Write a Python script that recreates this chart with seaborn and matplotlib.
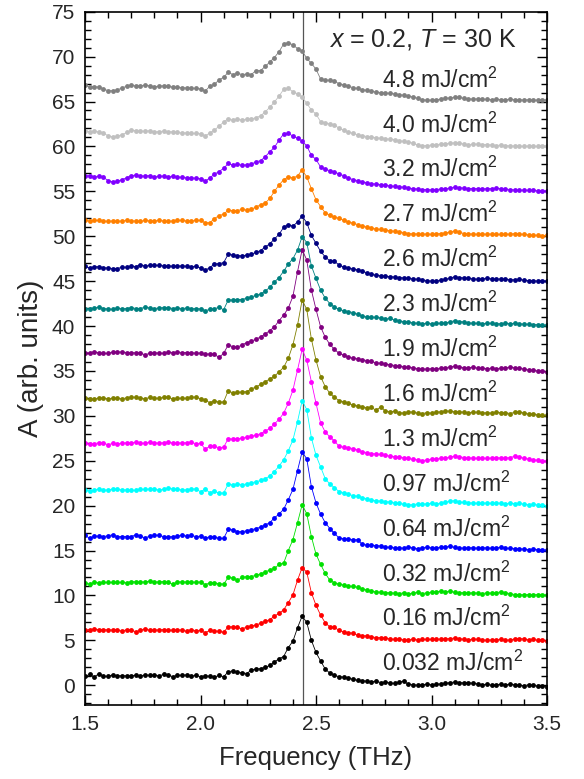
import numpy as np
import pandas as pd
import matplotlib
matplotlib.use("Agg")
import matplotlib.pyplot as plt
from matplotlib.ticker import MultipleLocator, FormatStrFormatter
import seaborn as sns

# ---------------- data ----------------
# frequency grid (THz)
freq = np.round(1.5 + 0.02 * np.arange(101), 2)

fluences = ["0.032", "0.16", "0.32", "0.64", "0.97", "1.3", "1.6",
            "1.9", "2.3", "2.6", "2.7", "3.2", "4.0", "4.8"]
offsets = [0, 5, 10, 15, 20, 25, 30, 35, 40, 45, 50, 55, 60, 65]
colors = ["#000000", "#ff0000", "#00e000", "#0000ff", "#00ffff", "#ff00ff",
          "#808000", "#800080", "#008080", "#000080", "#ff8000", "#8000ff",
          "#c0c0c0", "#808080"]

# spectra relative to their vertical offset
spec_0032 = [1.0,1.2,0.9,1.3,1.0,1.0,1.15,1.05,1.05,1.05,
             1.05,1.1,1.0,1.15,1.1,1.1,1.05,1.2,1.15,0.95,
             1.1,1.1,1.15,1.0,1.1,0.95,1.05,1.0,0.9,1.1,
             0.95,
             1.5,1.6,1.45,1.4,1.3,1.7,1.8,1.85,2.0,2.2,
             2.6,2.95,3.2,4.2,4.9,6.4,7.7,7.0,5.0,3.65,
             2.7,1.8,1.35,1.1,0.95,0.9,0.8,0.65,0.55,0.5,
             0.45,0.4,0.45,0.3,0.35,0.25,0.2,0.35,0.45,0.1,
             0.05,0.0,0.05,0.1,0.05,0.1,0.15,0.2,0.3,0.35,
             0.3,0.25,0.3,0.2,0.15,0.05,0.1,0.0,0.05,0.1,
             0.05,0.1,0.05,0.0,-0.05,0.05,0.0,-0.1,-0.05,-0.15]
spec_016 = [1.1,1.2,1.25,1.2,1.2,1.15,1.15,1.2,1.0,1.2,
            1.15,0.95,1.1,1.3,1.1,1.15,1.15,1.2,1.1,1.15,
            1.15,1.15,1.0,1.2,1.05,1.1,0.85,1.1,1.05,1.0,
            0.9,
            1.5,1.5,1.45,1.25,1.5,1.6,1.7,1.9,2.1,2.3,
            2.7,3.0,3.4,4.2,5.05,6.7,8.1,7.6,5.3,3.9,
            2.8,1.95,1.5,1.45,1.1,0.95,0.85,0.8,0.55,0.5,
            0.5,0.4,0.3,0.3,0.25,0.15,0.1,0.1,0.05,0.05,
            0.1,0.05,0.1,0.1,0.1,0.1,0.15,0.15,0.2,0.25,
            0.2,0.1,0.05,0.15,0.1,0.05,0.0,0.05,0.05,0.1,
            0.0,0.05,0.15,0.2,0.15,0.05,0.1,0.0,0.0,-0.05]
spec_032 = [1.4,1.25,1.45,1.4,1.45,1.45,1.45,1.45,1.45,1.4,
            1.55,1.5,1.5,1.5,1.6,1.5,1.5,1.55,1.45,1.25,
            1.5,1.5,1.5,1.5,1.45,1.5,1.2,1.4,1.4,1.3,
            1.25,
            2.0,1.95,1.7,2.0,2.1,2.1,2.25,2.4,2.6,2.85,
            3.0,3.45,3.6,5.0,6.2,8.1,10.1,9.1,6.55,4.6,
            3.45,2.45,1.7,1.4,1.25,1.15,1.05,1.0,0.9,0.75,
            0.6,0.45,0.4,0.35,0.3,0.3,0.25,0.2,0.3,0.2,
            0.25,0.35,0.2,0.3,0.35,0.4,0.45,0.4,0.45,0.35,
            0.3,0.3,0.25,0.3,0.25,0.2,0.3,0.25,0.3,0.4,
            0.3,0.2,0.1,0.1,0.05,0.1,0.05,0.1,0.05,0.05]
spec_064 = [1.7,1.35,1.6,1.6,1.55,1.65,1.75,1.55,1.55,1.55,
            1.55,1.75,1.6,1.4,1.6,1.7,1.7,1.55,1.5,1.55,
            1.6,1.7,1.6,1.7,1.55,1.6,1.35,1.55,1.5,1.35,
            1.35,
            2.35,2.3,2.1,2.1,2.2,2.3,2.45,2.6,2.85,3.1,
            3.65,4.05,4.6,5.65,6.8,8.9,11.0,10.2,7.1,5.3,
            4.05,3.1,2.45,1.9,1.4,1.3,1.25,1.2,1.2,0.7,
            0.6,0.6,0.55,0.5,0.4,0.35,0.3,0.3,0.25,0.35,
            0.3,0.2,0.3,0.35,0.3,0.3,0.35,0.4,0.45,0.35,
            0.3,0.25,0.3,0.3,0.25,0.3,0.3,0.25,0.3,0.35,
            0.25,0.25,0.2,0.2,0.15,0.1,0.15,0.1,0.05,0.05]
spec_097 = [1.75,1.65,1.75,1.85,1.7,1.75,1.85,1.8,1.75,1.75,
            1.7,1.7,1.8,1.8,1.85,1.8,1.75,1.8,1.95,1.85,
            1.8,1.75,1.75,1.85,1.85,1.55,1.85,1.45,1.6,1.4,
            1.4,
            2.4,2.3,2.4,2.35,2.4,2.55,2.65,2.8,3.0,3.3,
            3.8,4.4,5.1,6.1,7.3,9.35,11.7,10.7,7.55,5.6,
            4.3,3.0,2.4,2.0,1.55,1.45,1.3,1.1,1.05,0.9,
            0.75,0.6,0.55,0.5,0.45,0.4,0.3,0.25,0.15,0.1,
            0.1,0.2,0.15,0.2,0.25,0.2,0.25,0.35,0.5,0.55,
            0.4,0.35,0.3,0.3,0.25,0.25,0.3,0.25,0.3,0.25,
            0.2,0.3,0.2,0.25,0.15,0.1,0.15,0.05,0.05,0.0]
spec_13 = [2.0,1.85,1.9,2.0,2.0,1.75,1.95,1.9,1.95,2.0,
           2.0,2.05,1.95,1.95,2.05,2.0,1.95,2.0,2.1,1.95,
           1.95,2.0,2.0,2.05,1.9,1.95,1.3,1.6,1.6,1.45,
           1.5,
           2.45,2.4,2.45,2.5,2.6,2.7,2.85,3.0,3.3,3.6,
           4.1,4.6,5.3,6.4,7.85,10.1,12.4,11.2,8.8,6.4,
           4.2,3.2,2.65,2.2,1.6,1.5,1.45,1.35,1.2,1.0,
           0.9,0.8,0.75,0.7,0.6,0.5,0.45,0.4,0.35,0.25,
           0.15,0.1,0.0,0.1,0.15,0.2,0.25,0.3,0.4,0.5,
           0.45,0.35,0.3,0.3,0.25,0.3,0.25,0.3,0.35,0.3,
           0.3,0.35,0.5,0.45,0.25,0.2,0.1,0.05,0.0,-0.05]
spec_16 = [1.95,1.85,1.85,2.0,1.95,1.9,1.95,1.95,1.9,2.0,
           2.1,2.05,1.95,1.9,2.05,1.95,1.95,2.05,2.1,1.85,
           1.95,1.95,1.95,2.05,2.1,1.9,1.8,1.45,1.7,1.5,
           1.55,
           2.8,2.55,2.6,2.65,2.7,3.0,3.2,3.5,3.8,4.1,
           4.4,4.9,5.4,6.4,7.9,10.1,12.9,11.85,8.55,6.2,
           4.35,3.25,2.5,2.05,1.7,1.55,1.4,1.2,1.1,1.0,
           0.9,0.95,0.6,1.0,0.55,0.45,0.5,0.35,0.3,0.45,
           0.4,0.3,0.25,0.35,0.3,0.4,0.45,0.55,0.5,0.45,
           0.45,0.4,0.35,0.4,0.4,0.3,0.35,0.3,0.4,0.35,
           0.35,0.25,0.4,0.45,0.3,0.2,0.2,0.1,0.05,0.05]
spec_19 = [2.0,2.0,2.15,2.0,1.95,1.95,2.1,2.1,2.1,2.05,
           2.05,2.0,2.05,1.75,2.0,2.0,2.0,1.95,2.1,2.05,
           2.1,2.05,2.05,2.05,1.95,2.0,1.85,1.9,1.85,1.5,
           1.95,
           2.9,2.7,2.65,2.9,3.15,3.35,3.5,3.8,4.1,4.5,
           4.9,5.6,6.2,7.0,8.3,11.05,13.5,12.35,9.0,6.85,
           4.9,3.75,2.95,2.4,1.95,1.75,1.55,1.4,1.35,1.25,
           1.15,1.05,0.9,0.85,0.75,0.7,0.6,0.55,0.45,0.4,
           0.35,0.25,0.2,0.2,0.25,0.2,0.3,0.35,0.45,0.5,
           0.45,0.35,0.35,0.4,0.3,0.3,0.25,0.3,0.25,0.3,
           0.35,0.4,0.35,0.3,0.2,0.1,0.05,0.0,-0.05,-0.1]
spec_23 = [1.95,1.95,2.0,2.1,1.95,1.9,1.85,2.0,1.9,1.95,
           2.05,1.95,1.95,2.1,2.0,1.95,2.0,2.05,2.05,1.95,
           2.0,1.95,2.0,1.9,1.95,1.9,1.7,1.85,1.9,2.1,
           1.8,
           2.9,2.9,2.95,2.95,3.1,3.25,3.4,3.55,3.9,4.3,
           4.9,5.4,6.1,6.9,7.5,8.45,9.95,9.3,6.7,5.3,
           4.0,3.1,2.5,2.1,1.85,1.7,1.6,1.5,1.3,1.1,
           1.0,1.0,0.95,0.9,0.75,0.85,0.65,0.55,0.5,0.45,
           0.35,0.3,0.25,0.3,0.25,0.3,0.3,0.35,0.45,0.6,
           0.5,0.45,0.35,0.3,0.3,0.25,0.3,0.3,0.25,0.25,
           0.3,0.25,0.3,0.25,0.2,0.2,0.15,0.15,0.1,0.1]
spec_26 = [1.65,1.45,1.6,1.6,1.5,1.45,1.4,1.4,1.55,1.55,
           1.7,1.6,1.85,1.65,1.75,1.75,1.75,1.7,1.7,1.65,
           1.65,1.7,1.65,1.6,1.65,1.45,1.2,1.5,1.9,1.95,
           2.05,
           3.0,2.9,2.85,2.8,2.9,3.0,3.2,3.4,3.8,4.15,
           4.7,5.2,6.0,6.3,6.1,6.6,7.25,6.5,5.1,4.2,
           3.3,2.7,2.25,2.2,1.8,1.55,1.45,1.35,1.25,1.15,
           0.9,0.75,0.65,0.6,0.55,0.5,0.45,0.4,0.35,0.3,
           0.25,0.2,0.15,0.05,0.0,0.0,0.1,0.2,0.3,0.5,
           0.4,0.35,0.3,0.25,0.2,0.25,0.3,0.25,0.2,0.25,
           0.2,0.15,0.15,0.2,0.1,0.05,0.05,0.0,0.05,0.0]
spec_27 = [1.75,1.7,1.75,1.75,1.7,1.65,1.7,1.65,1.7,1.75,
           1.7,1.7,1.65,1.75,1.7,1.7,1.75,1.7,1.65,1.7,
           1.75,1.75,1.7,1.7,1.75,1.75,1.5,1.5,1.95,2.3,
           2.45,
           2.9,2.85,2.85,3.0,2.9,3.0,3.25,3.5,3.7,4.2,
           5.0,5.7,6.3,6.6,6.5,6.7,7.4,6.6,5.3,4.05,
           3.3,2.6,2.35,2.1,2.0,1.75,1.6,1.45,1.3,1.15,
           1.0,0.9,0.8,0.75,0.7,0.6,0.55,0.5,0.4,0.3,
           0.25,0.25,0.2,0.25,0.2,0.25,0.3,0.35,0.45,0.6,
           0.45,0.3,0.25,0.25,0.2,0.25,0.2,0.25,0.2,0.2,
           0.25,0.2,0.3,0.25,0.2,0.15,0.1,0.1,0.05,0.1]
spec_32 = [1.7,1.75,1.6,1.65,1.55,1.2,1.05,1.1,1.3,1.5,
           1.75,1.8,1.7,1.7,1.75,1.6,1.65,1.7,1.6,1.65,
           1.6,1.55,1.5,1.5,1.45,1.4,1.1,1.5,1.9,2.2,
           2.55,
           3.1,2.9,3.0,2.9,2.95,3.0,3.3,3.4,3.85,4.4,
           4.9,5.7,6.4,6.45,6.15,5.9,5.6,5.05,4.0,3.55,
           2.7,2.45,2.3,2.2,1.9,1.75,1.5,1.3,1.2,1.05,
           0.95,0.85,0.8,0.75,0.65,0.6,0.55,0.5,0.45,0.35,
           0.3,0.25,0.2,0.2,0.15,0.2,0.25,0.3,0.35,0.45,
           0.4,0.35,0.3,0.3,0.3,0.25,0.3,0.3,0.35,0.3,
           0.25,0.2,0.15,0.1,0.15,0.1,0.1,0.05,0.05,0.05]
spec_40 = [1.75,1.65,1.7,1.6,1.45,1.2,1.05,1.15,1.3,1.55,
           1.8,1.75,1.7,1.7,1.75,1.6,1.65,1.7,1.65,1.6,
           1.55,1.5,1.5,1.45,1.45,1.4,1.15,1.5,1.8,2.25,
           2.7,
           3.1,2.9,3.0,2.95,3.0,3.05,3.2,3.4,3.85,4.35,
           4.95,5.6,6.35,6.45,6.1,5.85,5.5,4.8,4.05,3.6,
           2.75,2.6,2.5,2.4,2.0,1.8,1.6,1.45,1.3,1.2,
           1.1,1.05,0.95,0.9,0.85,0.8,0.75,0.65,0.55,0.5,
           0.35,0.15,0.05,0.1,0.15,0.2,0.25,0.3,0.35,0.4,
           0.35,0.25,0.2,0.25,0.25,0.2,0.2,0.15,0.1,0.15,
           0.1,0.05,0.05,0.05,0.0,0.05,0.05,0.0,0.0,0.0]
spec_48 = [1.85,1.6,1.65,1.6,1.4,1.2,1.2,1.3,1.5,1.7,
           1.85,1.7,1.75,1.8,1.75,1.65,1.7,1.75,1.7,1.6,
           1.6,1.55,1.5,1.5,1.45,1.4,1.15,1.7,1.9,2.4,
           2.7,
           3.25,3.0,3.15,3.0,3.05,3.0,3.45,3.45,3.9,4.4,
           4.9,5.55,6.4,6.55,6.3,5.9,5.65,4.8,4.25,3.6,
           2.5,2.4,2.35,2.3,1.95,1.85,1.7,1.55,1.45,1.3,
           1.25,1.15,1.05,1.0,0.95,0.9,0.85,0.75,0.7,0.6,
           0.5,0.35,0.2,0.15,0.15,0.2,0.25,0.35,0.4,0.45,
           0.45,0.35,0.3,0.25,0.3,0.25,0.25,0.2,0.25,0.2,
           0.2,0.25,0.2,0.2,0.15,0.2,0.15,0.15,0.2,0.15]

spectra = [spec_0032, spec_016, spec_032, spec_064, spec_097, spec_13, spec_16,
           spec_19, spec_23, spec_26, spec_27, spec_32, spec_40, spec_48]

peak_freq = 2.445  # vertical reference line
sample_text = r"$\it{x}$ = 0.2, $\it{T}$ = 30 K"

# ---------------- build table ----------------
labels = [f + " mJ/cm$^{2}$" for f in fluences]
frames = []
for lab, off, vals in zip(labels, offsets, spectra):
    if len(vals) != len(freq):
        raise ValueError(f"{lab}: {len(vals)} values")
    frames.append(pd.DataFrame({"freq": freq,
                                "A": np.asarray(vals) + off,
                                "label": lab}))
df = pd.concat(frames, ignore_index=True)

# ---------------- style ----------------
sns.set_style("ticks")
plt.rcParams["font.family"] = ["Liberation Sans", "DejaVu Sans"]
plt.rcParams["mathtext.fontset"] = "custom"
plt.rcParams["mathtext.rm"] = "Liberation Sans"
plt.rcParams["mathtext.it"] = "Liberation Sans:italic"

fig = plt.figure(figsize=(5.84, 7.79), dpi=100)
ax = fig.add_axes([85 / 584, 1 - 705 / 779, (547 - 85) / 584, (705 - 11.7) / 779])

ax.axvline(peak_freq, color="#555555", lw=0.9, zorder=1)

sns.lineplot(data=df, x="freq", y="A", hue="label", hue_order=labels,
             palette=colors, estimator=None, sort=False, marker="o",
             markersize=3.5, markeredgewidth=0, linewidth=0.6,
             legend=False, ax=ax, zorder=2)

for lab, off in zip(labels, offsets):
    ax.text(2.785, off + 2.4, lab, fontsize=16.5, ha="left", va="center")
ax.text(2.555, 71.9, sample_text, fontsize=18, ha="left", va="center")

ax.set_xlim(1.5, 3.5)
ax.set_ylim(-2.2, 75)
ax.xaxis.set_major_locator(MultipleLocator(0.5))
ax.xaxis.set_minor_locator(MultipleLocator(0.1))
ax.yaxis.set_major_locator(MultipleLocator(5))
ax.yaxis.set_minor_locator(MultipleLocator(1))
ax.xaxis.set_major_formatter(FormatStrFormatter("%.1f"))
ax.tick_params(which="both", direction="in", top=True, right=True,
               width=1.0, color="black")
ax.tick_params(which="major", length=7, labelsize=15, pad=7)
ax.tick_params(which="minor", length=4)
for s in ax.spines.values():
    s.set_linewidth(1.2)
    s.set_color("black")

ax.set_xlabel("Frequency (THz)", fontsize=18.5, labelpad=9)
ax.set_ylabel("A (arb. units)", fontsize=20, labelpad=6)

fig.savefig("out.png", dpi=100)
